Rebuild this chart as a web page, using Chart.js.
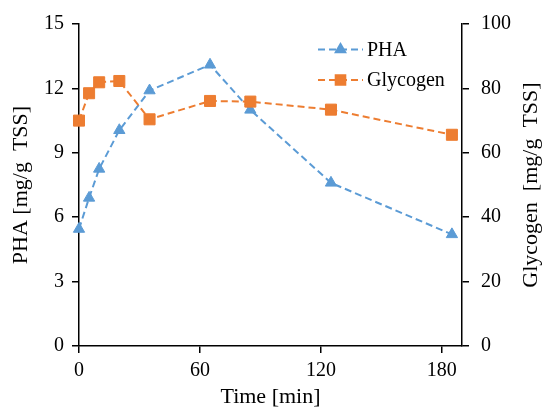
<!DOCTYPE html>
<html>
<head>
<meta charset="utf-8">
<script src="https://cdn.jsdelivr.net/npm/chart.js@4.4.1/dist/chart.umd.min.js"></script>
<style>
  html, body { margin: 0; padding: 0; background: #fff; }
  #wrap { width: 544px; height: 414px; }
</style>
</head>
<body>
<div id="wrap"><canvas id="chart" width="544" height="414"></canvas></div>
<script>
// Sampling times and measured contents
const times = [0, 5, 10, 20, 35, 65, 85, 125, 185];
const phaValues = [5.45, 6.9, 8.25, 10.05, 11.9, 13.1, 11.0, 7.6, 5.2];
const glycogenValues = [70.0, 78.5, 81.9, 82.3, 70.4, 76.1, 75.9, 73.4, 65.6];

// Axis ticks
const timeTicks = [0, 60, 120, 180];
const phaTicks = [0, 3, 6, 9, 12, 15];
const glycogenTicks = [0, 20, 40, 60, 80, 100];

const BLUE = "#5B9BD5";
const ORANGE = "#ED7D31";
const SERIF = "'Liberation Serif', 'Times New Roman', serif";
const DASH = [7, 4];

const toPoints = (ys) => times.map((t, i) => ({ x: t, y: ys[i] }));
const setTicks = (list) => (axis) => { axis.ticks = list.map(v => ({ value: v })); };

const axisLine = {
  border: { display: true, color: "#000", width: 1.5 },
  grid: { drawOnChartArea: false, drawTicks: true, tickLength: 7, color: "#000", lineWidth: 1.5 }
};

// Right-hand title (reads bottom to top) and the legend box
const extras = {
  id: "extras",
  afterDraw(chart) {
    const ctx = chart.ctx;
    ctx.save();
    ctx.fillStyle = "#000";
    ctx.font = "22px " + SERIF;
    ctx.textAlign = "center";
    ctx.textBaseline = "middle";
    ctx.translate(531, 185);
    ctx.rotate(-Math.PI / 2);
    ctx.fillText("Glycogen  [mg/g  TSS]", 0, 0);
    ctx.restore();

    const rows = [
      { label: "PHA", color: BLUE, style: "triangle", radius: 5.5, y: 49.5 },
      { label: "Glycogen", color: ORANGE, style: "rect", radius: 6.8, y: 80 }
    ];
    rows.forEach(r => {
      ctx.save();
      ctx.strokeStyle = r.color;
      ctx.lineWidth = 2;
      ctx.setLineDash(DASH);
      ctx.beginPath();
      ctx.moveTo(318, r.y);
      ctx.lineTo(363, r.y);
      ctx.stroke();
      ctx.setLineDash([]);
      ctx.fillStyle = r.color;
      ctx.strokeStyle = r.color;
      Chart.helpers.drawPoint(ctx, { pointStyle: r.style, radius: r.radius, rotation: 0, borderWidth: 1 }, 340.5, r.y);
      ctx.fillStyle = "#000";
      ctx.font = "20px " + SERIF;
      ctx.textAlign = "left";
      ctx.textBaseline = "middle";
      ctx.fillText(r.label, 367, r.y + 1);
      ctx.restore();
    });
  }
};

new Chart(document.getElementById("chart"), {
  type: "line",
  data: {
    datasets: [
      {
        label: "PHA",
        data: toPoints(phaValues),
        yAxisID: "y",
        borderColor: BLUE,
        backgroundColor: BLUE,
        borderWidth: 2,
        borderDash: DASH,
        pointStyle: "triangle",
        pointRadius: 6.5,
        pointBorderWidth: 1,
        pointBorderColor: BLUE,
        pointBackgroundColor: BLUE,
        tension: 0,
        clip: false,
        order: 1
      },
      {
        label: "Glycogen",
        data: toPoints(glycogenValues),
        yAxisID: "y2",
        borderColor: ORANGE,
        backgroundColor: ORANGE,
        borderWidth: 2,
        borderDash: DASH,
        pointStyle: "rect",
        pointRadius: 7.8,
        pointBorderWidth: 1,
        pointBorderColor: ORANGE,
        pointBackgroundColor: ORANGE,
        tension: 0,
        clip: false,
        order: 0
      }
    ]
  },
  options: {
    responsive: false,
    animation: false,
    layout: { padding: { top: 22, right: 0, bottom: 0, left: 0 } },
    plugins: { legend: { display: false }, tooltip: { enabled: false } },
    scales: {
      x: {
        type: "linear",
        min: 0,
        max: 190,
        afterBuildTicks: setTicks(timeTicks),
        afterFit: (s) => { s.height = 68; },
        ...axisLine,
        ticks: { color: "#000", padding: 6, font: { family: SERIF, size: 20 } },
        title: { display: true, text: "Time [min]", color: "#000", padding: { top: 0, bottom: 4 }, font: { family: SERIF, size: 22 } }
      },
      y: {
        position: "left",
        min: 0,
        max: 15,
        afterBuildTicks: setTicks(phaTicks),
        afterFit: (s) => { s.width = 79; },
        ...axisLine,
        ticks: { color: "#000", padding: 8, font: { family: SERIF, size: 20 } },
        title: { display: true, text: "PHA [mg/g  TSS]", color: "#000", padding: { top: 8, bottom: 0 }, font: { family: SERIF, size: 22 } }
      },
      y2: {
        position: "right",
        min: 0,
        max: 100,
        afterBuildTicks: setTicks(glycogenTicks),
        afterFit: (s) => { s.width = 82; },
        ...axisLine,
        ticks: { color: "#000", padding: 12, font: { family: SERIF, size: 20 } }
      }
    }
  },
  plugins: [extras]
});
</script>
</body>
</html>
